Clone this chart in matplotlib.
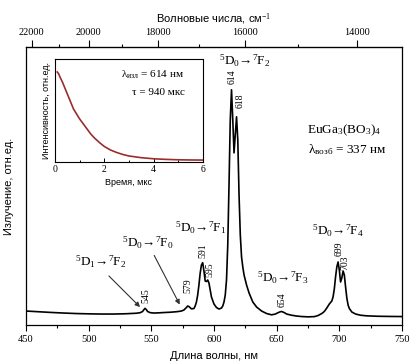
import matplotlib
matplotlib.use('Agg')
import matplotlib.pyplot as plt
import numpy as np
from matplotlib.ticker import MultipleLocator, FixedLocator

plt.rcParams['font.family'] = 'Liberation Serif'
plt.rcParams['mathtext.fontset'] = 'custom'
plt.rcParams['mathtext.rm'] = 'Liberation Serif'
plt.rcParams['mathtext.it'] = 'Liberation Serif:italic'
plt.rcParams['mathtext.bf'] = 'Liberation Serif:bold'

# emission spectrum (wavelength, nm / intensity, arb. units)
wl = [450, 460, 470, 480, 490, 500, 510, 520, 530, 538, 541, 543, 544, 545, 546, 547, 549, 552,
      556, 560, 565, 570, 574, 576, 578, 579, 580, 582, 584, 585, 586, 587, 588, 589, 590, 591,
      592, 593, 594, 595, 596, 597, 598, 600, 602, 604, 606, 607, 608, 609, 610, 611, 612, 613,
      614, 615, 616, 617, 618, 619, 620, 621, 622, 623, 624, 626, 628, 631, 634, 638, 642, 646,
      649, 651, 653, 654, 656, 658, 662, 666, 670, 675, 680, 683, 686, 688, 690, 692, 694, 695,
      696, 697, 698, 699, 700, 701, 702, 703, 704, 705, 706, 707, 708, 710, 713, 717, 722, 730,
      740, 750]
em = [14, 13.3, 12.6, 12, 11.5, 11.2, 11, 11, 11.3, 11.8, 12.3, 13.5, 15.2, 16.7, 15.5, 13.6, 12.4, 12,
      12.2, 12.5, 12.8, 13.3, 14, 15, 17.5, 19, 18.5, 16.2, 16.5, 19, 23, 30, 40, 52, 60, 62.3,
      54, 44, 43.5, 45, 42, 35, 28, 21, 17.5, 16, 17, 19, 23, 30, 45, 80, 140, 205,
      235, 205, 172, 190, 208, 185, 130, 90, 68, 58, 50, 40, 32, 23, 18, 14, 11.5, 10.2,
      11, 12.3, 13.3, 13.5, 12.5, 11, 9.8, 9, 8.5, 8.2, 8.4, 9.5, 11.5, 13.5, 17, 21, 24, 28,
      36, 48, 58, 63, 55, 43, 47, 54, 50, 38, 27, 20, 16.5, 13, 11, 9.8, 9.2, 8.8,
      8.6, 8.5]

# luminescence decay (inset)
t_decay = [0.09, 0.15, 0.2, 0.3, 0.4, 0.5, 0.6, 0.75, 0.9, 1.0, 1.15, 1.3, 1.45, 1.6, 1.8, 2.0,
           2.25, 2.5, 2.75, 3.0, 3.5, 4.0, 4.5, 5.0, 5.5, 6.0]
i_decay = [90, 88, 85, 80, 74, 68, 62, 53, 47, 43, 38, 33, 28, 24, 19.5, 15.5,
           12, 9.5, 7.5, 6, 4.3, 3.2, 2.6, 2.2, 2, 1.9]

peak_labels = ['545', '579', '591', '595', '614', '618', '654', '699', '703']
peak_x = [545.5, 579.5, 591.5, 596.5, 614.5, 620.5, 654.5, 699.5, 704.5]
peak_y = [22, 32, 67, 48, 241, 217, 18, 69, 55]

fig = plt.figure(figsize=(4.12, 3.64), dpi=100)
ax = fig.add_axes([0.063, 0.107, 0.9127, 0.7646])
ax.plot(wl, em, color='black', lw=1.2)
ax.set_xlim(450, 750)
ax.set_ylim(0, 278)
ax.set_yticks([])
ax.xaxis.set_major_locator(MultipleLocator(50))
ax.xaxis.set_minor_locator(MultipleLocator(25))
ax.tick_params(axis='x', which='major', direction='out', length=4, width=0.8, labelsize=7.5, pad=3)
ax.tick_params(axis='x', which='minor', direction='out', length=2.5, width=0.8)
for s in ax.spines.values():
    s.set_linewidth(0.9)

ax.set_xlabel('Длина волны, нм', family='Liberation Sans', fontsize=8)
ax.xaxis.set_label_coords(0.5, -0.095)
ax.set_ylabel('Излучение, отн.ед.', family='Liberation Sans', fontsize=8)
ax.yaxis.set_label_coords(-0.032, 0.5)

sec = ax.secondary_xaxis('top', functions=(lambda x: 1e7 / x, lambda x: 1e7 / x))
sec.xaxis.set_major_locator(FixedLocator([22000, 20000, 18000, 16000, 14000]))
sec.xaxis.set_minor_locator(FixedLocator([21000, 19000, 17000, 15000]))
sec.tick_params(which='major', direction='out', length=5, width=0.8, labelsize=7.5, pad=2)
sec.tick_params(which='minor', direction='out', length=2.5, width=0.8)
sec.set_xlabel('Волновые числа, см$^{-1}$', family='Liberation Sans', fontsize=8, labelpad=4)

for lab, x, y in zip(peak_labels, peak_x, peak_y):
    ax.text(x, y, lab, rotation=90, ha='center', va='bottom', fontsize=7)

tr = '$^{%s}$D$_{%s}$\u2192$^{%s}$F$_{%s}$'
ax.text(624.7, 264, tr % ('5', '0', '7', '2'), ha='center', va='center', fontsize=9.5)
ax.text(589.6, 97, tr % ('5', '0', '7', '1'), ha='center', va='center', fontsize=9.5)
ax.text(547.3, 82, tr % ('5', '0', '7', '0'), ha='center', va='center', fontsize=9.5)
ax.text(509.8, 63, tr % ('5', '1', '7', '2'), ha='center', va='center', fontsize=9.5)
ax.text(655.1, 47, tr % ('5', '0', '7', '3'), ha='center', va='center', fontsize=9.5)
ax.text(699.0, 94, tr % ('5', '0', '7', '4'), ha='center', va='center', fontsize=9.5)
ax.text(703.7, 195, r'EuGa$_{3}$(BO$_{3}$)$_{4}$', ha='center', va='center', fontsize=9.5)
ax.text(706.0, 175, r'λ$_{\mathrm{возб}}$ = 337 нм', ha='center', va='center', fontsize=9.5)

arrow = dict(arrowstyle='-|>', color='#333333', lw=0.8, mutation_scale=7)
ax.annotate('', xy=(542.6, 16), xytext=(514.6, 51), arrowprops=arrow)
ax.annotate('', xy=(573.7, 18), xytext=(551.3, 72), arrowprops=arrow)

# inset with decay curve
ins = fig.add_axes([0.1335, 0.555, 0.359, 0.283])
ins.plot(t_decay, i_decay, color='#9b2d2d', lw=1.2)
ins.set_xlim(0, 6)
ins.set_ylim(0, 103)
ins.set_yticks([])
ins.xaxis.set_major_locator(MultipleLocator(2))
ins.xaxis.set_minor_locator(MultipleLocator(1))
ins.tick_params(axis='x', which='major', direction='in', length=3, width=0.7, labelsize=7, pad=2)
ins.tick_params(axis='x', which='minor', direction='in', length=1.5, width=0.7)
for s in ins.spines.values():
    s.set_linewidth(0.8)
ins.set_xlabel('Время, мкс', family='Liberation Sans', fontsize=6.5, labelpad=3)
ins.set_ylabel('Интенсивность, отн.ед.', family='Liberation Sans', fontsize=6.5, labelpad=3)
ins.text(0.66, 0.85, r'λ$_{\mathrm{изл}}$ = 614 нм', transform=ins.transAxes, ha='center', va='center', fontsize=8)
ins.text(0.70, 0.67, 'τ = 940 мкс', transform=ins.transAxes, ha='center', va='center', fontsize=8)

fig.savefig('out.png', dpi=100)
